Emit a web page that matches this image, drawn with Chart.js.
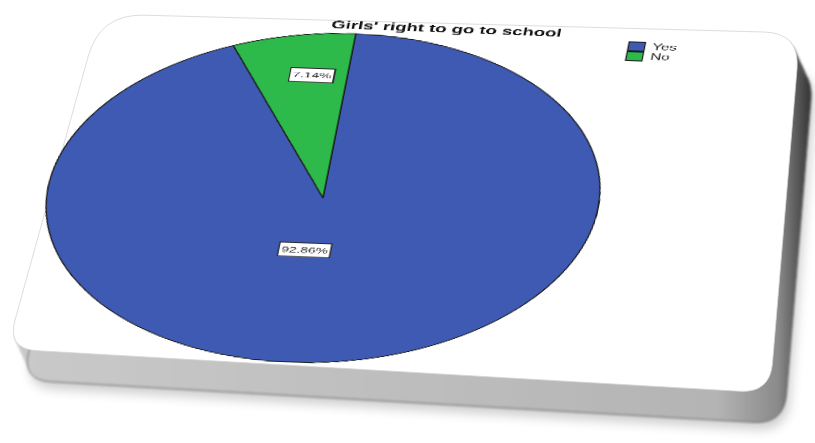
<!DOCTYPE html>
<html>
<head>
<meta charset="utf-8">
<title>Girls' right to go to school</title>
<script src="https://cdn.jsdelivr.net/npm/chart.js@4.4.1/dist/chart.umd.min.js"></script>
<style>
  html, body { margin: 0; padding: 0; background: #fff; width: 815px; height: 443px; overflow: hidden; }
  #card { position: absolute; left: 0; top: 0; }
  #plate { position: absolute; left: 0; top: 0; transform-origin: 0 0; }
  #plate canvas { display: block; }
</style>
</head>
<body>
<svg id="card" width="815" height="443" viewBox="0 0 815 443">
  <defs>
    <filter id="soft" x="-10%" y="-10%" width="120%" height="140%">
      <feGaussianBlur stdDeviation="6"/>
    </filter>
    <filter id="rim" x="-5%" y="-5%" width="110%" height="115%">
      <feGaussianBlur stdDeviation="1"/>
    </filter>
    <filter id="faceEdge" x="-5%" y="-5%" width="110%" height="115%">
      <feGaussianBlur stdDeviation="0.7"/>
    </filter>
    <linearGradient id="side" gradientUnits="userSpaceOnUse" x1="0" y1="0" x2="815" y2="0">
      <stop offset="0" stop-color="#cacaca"/>
      <stop offset="0.88" stop-color="#b4b4b4"/>
      <stop offset="0.955" stop-color="#8a8a8a"/>
      <stop offset="1" stop-color="#2a2a2a"/>
    </linearGradient>
  </defs>
  <g id="shadow" filter="url(#soft)" opacity="0.2"></g>
  <g id="body" filter="url(#rim)"></g>
  <path id="face" fill="#ffffff" stroke="#d4d4d4" stroke-width="0.8" filter="url(#faceEdge)"/>
</svg>
<div id="plate"><canvas id="pie" width="470" height="425"></canvas></div>
<script>
// ---- data ----
const categories = ['Yes', 'No'];
const percents = [92.86, 7.14];

// ---- styling ----
const sliceColors = ['#3E5AB3', '#2EBA4A'];
const FONT = 'Liberation Sans, Arial, sans-serif';

// Card outline (top face corners, clockwise from top-left) and corner radii.
const faceCorners = [[100, 14], [800, 33], [770, 393], [7, 349]];
const faceRadii = [44, 36, 30, 30];
const depth = [14, 31];

function unit(from, to) {
  const dx = from[0] - to[0], dy = from[1] - to[1];
  const len = Math.hypot(dx, dy);
  return [dx / len, dy / len];
}
function roundedPath(pts, radii, ox, oy) {
  let d = '';
  const n = pts.length;
  for (let i = 0; i < n; i++) {
    const p = pts[i], prev = pts[(i + n - 1) % n], next = pts[(i + 1) % n];
    const r = radii[i];
    const up = unit(prev, p), un = unit(next, p);
    const a = [p[0] + up[0] * r + ox, p[1] + up[1] * r + oy];
    const b = [p[0] + un[0] * r + ox, p[1] + un[1] * r + oy];
    d += (i === 0 ? 'M' : 'L') + a[0].toFixed(1) + ' ' + a[1].toFixed(1) +
         ' Q' + (p[0] + ox).toFixed(1) + ' ' + (p[1] + oy).toFixed(1) + ' ' +
         b[0].toFixed(1) + ' ' + b[1].toFixed(1) + ' ';
  }
  return d + 'Z';
}

// Build the card: soft drop shadow, swept thickness, white top face.
(function drawCard() {
  const NS = 'http://www.w3.org/2000/svg';
  const body = document.getElementById('body');
  const shadow = document.getElementById('shadow');
  const sh = document.createElementNS(NS, 'path');
  sh.setAttribute('d', roundedPath(faceCorners, faceRadii, depth[0] + 3, depth[1] + 7));
  sh.setAttribute('fill', '#000');
  shadow.appendChild(sh);
  const steps = 10;
  for (let k = 1; k <= steps; k++) {
    const p = document.createElementNS(NS, 'path');
    p.setAttribute('d', roundedPath(faceCorners, faceRadii, depth[0] * k / steps, depth[1] * k / steps));
    p.setAttribute('fill', 'url(#side)');
    if (k === steps) { p.setAttribute('stroke', '#606060'); p.setAttribute('stroke-width', '0.9'); }
    body.appendChild(p);
  }
  document.getElementById('face').setAttribute('d', roundedPath(faceCorners, faceRadii, 0, 0));
})();

// The pie is drawn as a circle, then laid onto the tilted card plane:
// the circle's horizontal and vertical radii map onto these screen vectors.
const planeU = [275, 10.45];
const planeV = [-32.84, 164.2];
const planeCenter = [323, 198];

// Title and legend anchors, in units of the pie radius from its centre.
const titleAnchor = [0.323, -1.044];
const legendAnchor = [0.99, -1.012];
// Where each percentage label sits: fraction of the radius, extra turn in degrees.
const labelPlacement = [{ radius: 0.32, turn: 18 }, { radius: 0.75, turn: 3 }];

const placeBoxes = {
  id: 'placeBoxes',
  afterLayout(chart) {
    const ca = chart.chartArea;
    const cx = (ca.left + ca.right) / 2, cy = (ca.top + ca.bottom) / 2;
    const r = Math.min(ca.right - ca.left, ca.bottom - ca.top) / 2;
    const tb = chart.titleBlock;
    if (tb) {
      const opts = tb.options;
      const lh = opts.font.size * 1.2;
      const padTop = (opts.padding && opts.padding.top) || 0;
      const w = tb.right - tb.left;
      const tx = cx + titleAnchor[0] * r, ty = cy + titleAnchor[1] * r;
      tb.left = tx - w / 2; tb.right = tx + w / 2;
      const h = tb.bottom - tb.top;
      tb.top = ty - padTop - lh / 2; tb.bottom = tb.top + h;
    }
    const lg = chart.legend;
    if (lg) {
      const pad = lg.options.labels.padding;
      const w = lg.right - lg.left, h = lg.bottom - lg.top;
      lg.left = cx + legendAnchor[0] * r - pad;
      lg.top = cy + legendAnchor[1] * r - pad;
      lg.right = lg.left + w; lg.bottom = lg.top + h;
    }
  }
};

const sliceLabels = {
  id: 'sliceLabels',
  afterDatasetsDraw(chart) {
    const ctx = chart.ctx;
    const arcs = chart.getDatasetMeta(0).data;
    ctx.save();
    ctx.font = '10px ' + FONT;
    ctx.textAlign = 'center';
    ctx.textBaseline = 'middle';
    arcs.forEach((arc, i) => {
      const { x, y, startAngle, endAngle, outerRadius } = arc.getProps(['x', 'y', 'startAngle', 'endAngle', 'outerRadius'], true);
      const place = labelPlacement[i];
      const mid = (startAngle + endAngle) / 2 + place.turn * Math.PI / 180;
      const lx = x + Math.cos(mid) * outerRadius * place.radius;
      const ly = y + Math.sin(mid) * outerRadius * place.radius;
      const text = percents[i].toFixed(2) + '%';
      const w = ctx.measureText(text).width + 4;
      const h = 17;
      ctx.fillStyle = '#ffffff';
      ctx.fillRect(lx - w / 2, ly - h / 2, w, h);
      ctx.strokeStyle = '#2a2a2a';
      ctx.lineWidth = 1;
      ctx.strokeRect(lx - w / 2, ly - h / 2, w, h);
      ctx.fillStyle = '#333333';
      ctx.fillText(text, lx, ly + 0.5);
    });
    ctx.restore();
  }
};

const chart = new Chart(document.getElementById('pie'), {
  type: 'pie',
  data: {
    labels: categories,
    datasets: [{
      data: percents,
      backgroundColor: sliceColors,
      borderColor: '#1c1c1c',
      borderWidth: 1
    }]
  },
  options: {
    responsive: false,
    animation: false,
    devicePixelRatio: 3,
    layout: { padding: 0 },
    plugins: {
      title: {
        display: true,
        text: "Girls' right to go to school",
        color: '#111111',
        font: { family: FONT, size: 13.5, weight: 'bold' },
        padding: { top: 4, bottom: 2 }
      },
      legend: {
        position: 'right',
        align: 'start',
        fullSize: false,
        labels: {
          boxWidth: 12,
          boxHeight: 11,
          padding: 1,
          color: '#222222',
          font: { family: FONT, size: 11 }
        }
      },
      tooltip: { enabled: false }
    }
  },
  plugins: [placeBoxes, sliceLabels]
});

// Lay the flat chart onto the card plane.
(function tilt() {
  const arc = chart.getDatasetMeta(0).data[0];
  const r = arc.outerRadius, px = arc.x, py = arc.y;
  const a = planeU[0] / r, b = planeU[1] / r, c = planeV[0] / r, d = planeV[1] / r;
  const e = planeCenter[0] - (a * px + c * py);
  const f = planeCenter[1] - (b * px + d * py);
  document.getElementById('plate').style.transform =
    'matrix(' + [a, b, c, d, e, f].map(v => v.toFixed(5)).join(',') + ')';
})();
</script>
</body>
</html>
